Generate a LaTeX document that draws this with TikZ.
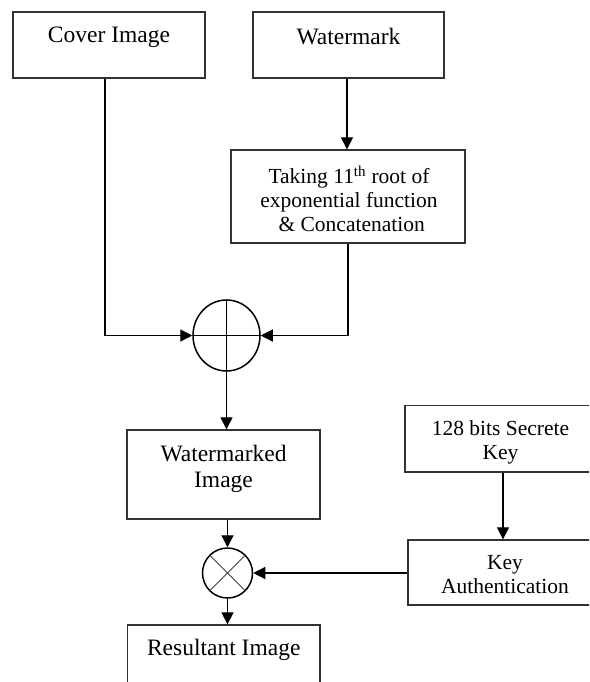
\documentclass[tikz,border=0pt]{standalone}
\usepackage{fontspec}
\setmainfont{Liberation Serif}
\usetikzlibrary{arrows.meta,shapes.geometric}
\tikzset{
  box/.style={draw=black!80, line width=1.3pt, rectangle, inner sep=0pt},
  bigtxt/.style={font=\fontsize{23.5}{26}\selectfont, align=center, inner sep=0pt},
  smalltxt/.style={font=\fontsize{21.5}{24}\selectfont, align=center, inner sep=0pt},
  conn/.style={draw=black, line width=1.2pt},
  arr/.style={conn, -{Triangle[length=12pt,width=12pt]}},
}
\begin{document}
\begin{tikzpicture}[x=1pt,y=-1pt]
\useasboundingbox (0,0) rectangle (589,682);
\clip (0,0) rectangle (589,682);
\fill[white] (0,0) rectangle (589,682);
% boxes
\node[box, minimum width=192pt, minimum height=66pt] (cover) at (109,45) {};
\node[bigtxt] (covert) at (109,37) {Cover Image};
\node[box, minimum width=191pt, minimum height=66pt] (wmk) at (348.5,45) {};
\node[bigtxt] (wmkt) at (348.5,37) {Watermark};
\node[box, minimum width=234pt, minimum height=93pt] (take) at (348,196.5) {};
\node[smalltxt] (taket) at (349,199) {Taking 11\textsuperscript{th} root of\\exponential function\\\ \& Concatenation};
\node[box, minimum width=193pt, minimum height=89pt] (wm) at (223.5,474.5) {};
\node[bigtxt] (wmt) at (223.5,469) {Watermarked\\Image};
\node[box, minimum width=192.5pt, minimum height=75pt] (res) at (223.75,662.5) {};
\node[bigtxt] (rest) at (223.75,650) {Resultant Image};
\node[box, minimum width=195pt, minimum height=66.5pt] (key) at (502.5,438.8) {};
\node[smalltxt] (keyt) at (500.5,442) {128 bits Secrete\\Key};
\node[box, minimum width=192pt, minimum height=65pt] (auth) at (504,572.5) {};
\node[smalltxt] (autht) at (505,575) {Key\\Authentication};
% operators
\node[draw=black, line width=1.5pt, ellipse, minimum width=67pt, minimum height=71pt, inner sep=0pt] (plus) at (226.5,335.5) {};
\draw[line width=1.2pt] (plus.north) -- (plus.south);
\draw[line width=1.2pt] (plus.west) -- (plus.east);
\node[draw=black, line width=1.5pt, circle, minimum size=50pt, inner sep=0pt] (cross) at (227.5,573) {};
\draw[line width=0.8pt, black!75] (cross.north west) -- (cross.south east);
\draw[line width=0.8pt, black!75] (cross.north east) -- (cross.south west);
% connectors
\draw[arr] (wmk.south -| 347,0) -- (take.north -| 347,0);
\draw[arr] (cover.south -| 105,0) -- (105,335.5) -- (plus.west);
\draw[arr] (take.south -| 348,0) -- (348,335.5) -- (plus.east);
\draw[arr] (plus.south -| 226.5,0) -- (wm.north -| 226.5,0);
\draw[arr] (wm.south -| 227.5,0) -- (cross.north);
\draw[arr] (cross.south) -- (res.north -| 227.5,0);
\draw[arr] (key.south -| 503,0) -- (auth.north -| 503,0);
\draw[arr] (auth.west |- cross.east) -- (cross.east);
\end{tikzpicture}
\end{document}
